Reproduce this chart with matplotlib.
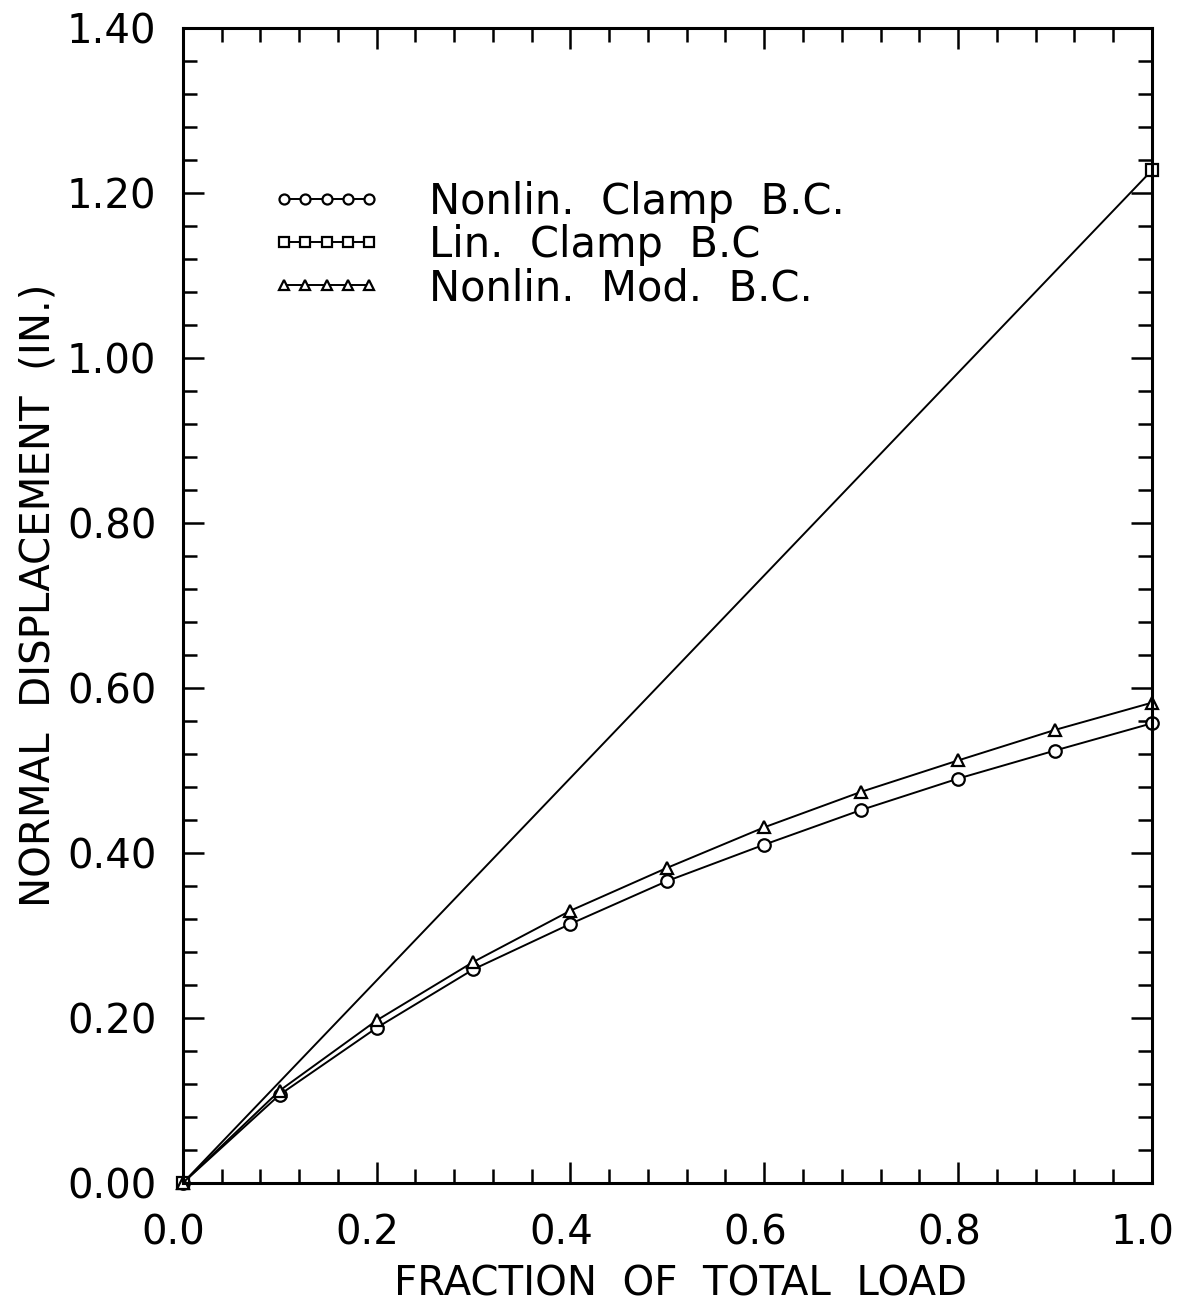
import matplotlib
matplotlib.use("Agg")
import matplotlib.pyplot as plt
from matplotlib.ticker import MultipleLocator, FormatStrFormatter
from matplotlib.transforms import ScaledTranslation

# ======== Data ========
load_frac = [0.0, 0.1, 0.2, 0.3, 0.4, 0.5, 0.6, 0.7, 0.8, 0.9, 1.0]
nonlin_clamp = [0.0, 0.107, 0.188, 0.259, 0.314, 0.366, 0.410, 0.452, 0.490, 0.524, 0.557]
nonlin_mod = [0.0, 0.112, 0.197, 0.268, 0.330, 0.382, 0.431, 0.474, 0.512, 0.549, 0.582]
lin_x = [0.0, 1.0]
lin_clamp = [0.0, 1.227]

labels = ["Nonlin.  Clamp  B.C.", "Lin.  Clamp  B.C", "Nonlin.  Mod.  B.C."]

# ======== Plot ========
fig = plt.figure(figsize=(11.79, 13.11), dpi=100)
ax = fig.add_axes([0.155, 0.0976, 0.822, 0.8814])

mk = dict(color="black", linewidth=1.4, markersize=9, markerfacecolor="white",
          markeredgewidth=1.6, clip_on=False)
ax.plot(load_frac, nonlin_clamp, marker="o", label=labels[0], **mk)
ax.plot(lin_x, lin_clamp, marker="s", label=labels[1], **mk)
ax.plot(load_frac, nonlin_mod, marker="^", label=labels[2], **mk)

ax.set_xlim(0, 1.0)
ax.set_ylim(0, 1.40)
ax.xaxis.set_major_locator(MultipleLocator(0.2))
ax.xaxis.set_minor_locator(MultipleLocator(0.04))
ax.yaxis.set_major_locator(MultipleLocator(0.2))
ax.yaxis.set_minor_locator(MultipleLocator(0.04))
ax.xaxis.set_major_formatter(FormatStrFormatter("%.1f"))
ax.yaxis.set_major_formatter(FormatStrFormatter("%.2f"))

for s in ax.spines.values():
    s.set_linewidth(2.2)
ax.tick_params(which="both", direction="in", top=True, right=True, width=1.8,
               labelsize=29)
ax.tick_params(which="major", length=15)
ax.tick_params(which="minor", length=10)
ax.tick_params(axis="x", which="major", pad=22)
ax.tick_params(axis="y", which="major", pad=19)

# x tick labels sit a little left of their ticks in the original
shift = ScaledTranslation(-0.09, 0, fig.dpi_scale_trans)
for lbl in ax.get_xticklabels():
    lbl.set_transform(lbl.get_transform() + shift)

ax.set_xlabel("FRACTION  OF  TOTAL  LOAD", fontsize=29, labelpad=8)
ax.set_ylabel("NORMAL  DISPLACEMENT  (IN.)", fontsize=29, labelpad=6)
ax.xaxis.label.set_x(0.514)
ax.yaxis.label.set_y(0.509)

ax.legend(loc="upper left", bbox_to_anchor=(0.074, 0.882), frameon=False,
          numpoints=5, handlelength=2.66, handletextpad=1.13, labelspacing=0.03,
          fontsize=30, markerscale=0.8, borderaxespad=0)

plt.savefig("out.png", dpi=100)
